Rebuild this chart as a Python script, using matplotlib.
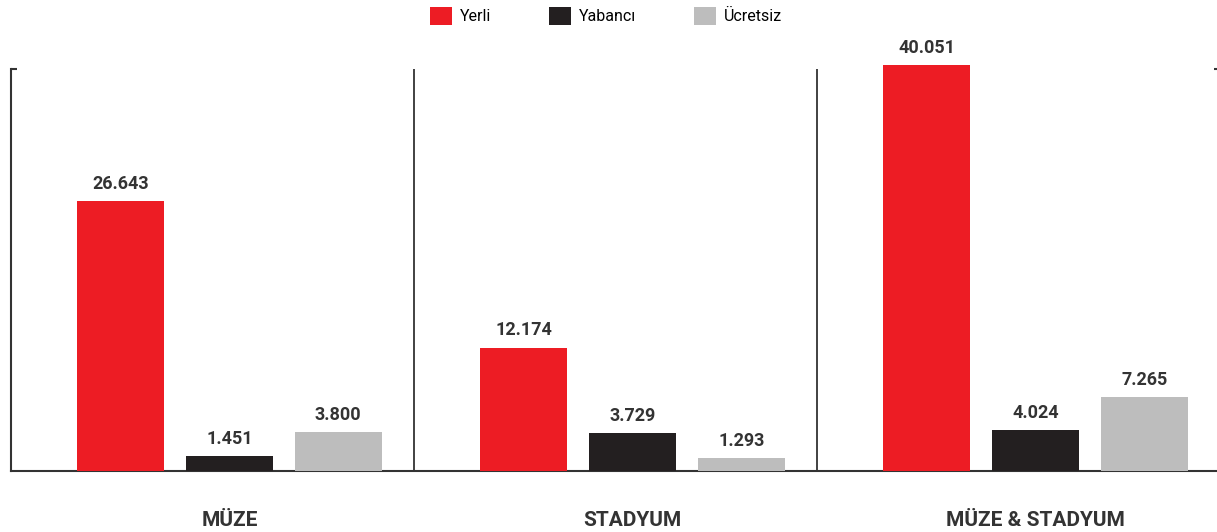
import matplotlib.pyplot as plt
import numpy as np

plt.rcParams['font.family'] = ['Roboto', 'DejaVu Sans']

# groups and series
groups = ['MÜZE', 'STADYUM', 'MÜZE & STADYUM']
series = ['Yerli', 'Yabancı', 'Ücretsiz']
values = {
    'Yerli': [26.643, 12.174, 40.051],
    'Yabancı': [1.451, 3.729, 4.024],
    'Ücretsiz': [3.800, 1.293, 7.265],
}
colors = ['#ED1C24', '#231F20', '#BDBDBD']

fig = plt.figure(figsize=(12.17, 5.32), dpi=100)
ax = fig.add_axes([11 / 1217, 61 / 532, 1209 / 1217, 402 / 532])

x = np.arange(len(groups))
width = 0.216
step = 0.27
shift = 0.042

for j, name in enumerate(series):
    pos = x + shift + (j - 1) * step
    bars = ax.bar(pos, values[name], width, color=colors[j], label=name, clip_on=False, zorder=3)
    for b, v in zip(bars, values[name]):
        ax.annotate(f'{v:.3f}', (b.get_x() + b.get_width() / 2, b.get_height()),
                    xytext=(0, 6), textcoords='offset points', ha='center', va='bottom',
                    fontsize=13, fontweight='bold', color='#333333', annotation_clip=False)

ymax = 40.051 * 402 / 406
ax.set_xlim(-0.5, 2.5)
ax.set_ylim(0, ymax)

# panel separators
for s in [0.5, 1.5]:
    ax.axvline(s, color='#333333', lw=1.3, zorder=1)

for side in ['top', 'right']:
    ax.spines[side].set_visible(False)
for side in ['left', 'bottom']:
    ax.spines[side].set_color('#333333')
    ax.spines[side].set_linewidth(1.5)

ax.set_yticks([ymax])
ax.tick_params(axis='y', direction='in', length=4, width=1.5, color='#333333',
               left=True, right=True, labelleft=False)
ax.set_xticks(x + shift)
ax.set_xticklabels(groups, fontsize=15, fontweight='bold', color='#333333')
ax.tick_params(axis='x', length=0, pad=29)

fig.legend(loc='center', bbox_to_anchor=(606 / 1217, 1 - 16 / 532), ncol=3, frameon=False,
           fontsize=11.5, handlelength=1.4, handleheight=1.4, columnspacing=3.6,
           handletextpad=0.5)

fig.savefig('out.png', dpi=100)
